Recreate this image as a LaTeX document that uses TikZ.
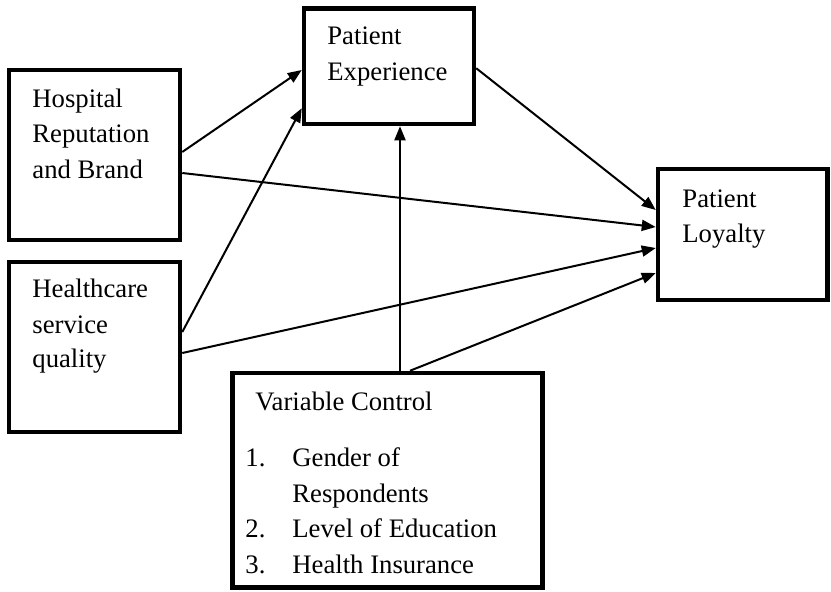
\documentclass[tikz,border=0pt]{standalone}
\usepackage{fontspec}
\setmainfont{Liberation Serif}
\usetikzlibrary{arrows.meta,calc}

\begin{document}
\begin{tikzpicture}[x=0.5pt,y=0.5pt,
  box/.style={draw,line width=2.25pt,inner sep=0pt},
  lbl/.style={anchor=base west,inner sep=0pt,font=\fontsize{13.35pt}{17.75pt}\selectfont},
  link/.style={line width=1pt,-{Triangle[length=7pt,width=5.5pt]}}]
\useasboundingbox (0,0) rectangle (831,591);
% boxes
\node[box,minimum width=85.5pt,minimum height=85pt] (hrb) at (94.5,436) {};
\node[box,minimum width=85.5pt,minimum height=85pt] (hsq) at (94.5,244) {};
\node[box,minimum width=85pt,minimum height=57.75pt] (pe) at (389,524.75) {};
\node[box,minimum width=84.75pt,minimum height=65.5pt] (pl) at (742.75,356.5) {};
\node[box,minimum width=155pt,minimum height=107.25pt] (vc) at (387.5,110.75) {};
% texts
\node[lbl] (hrb1) at (32,484) {Hospital};
\node[lbl] (hrb2) at (32,449) {Reputation};
\node[lbl] (hrb3) at (32,413) {and Brand};
\node[lbl] (hsq1) at (32,294) {Healthcare};
\node[lbl] (hsq2) at (32,258) {service};
\node[lbl] (hsq3) at (32,224) {quality};
\node[lbl] (pe1) at (327,546) {Patient};
\node[lbl] (pe2) at (327,511) {Experience};
\node[lbl] (pl1) at (682,384) {Patient};
\node[lbl] (pl2) at (682,349) {Loyalty};
\node[lbl] (vc0) at (255,181) {Variable Control};
\node[lbl] (vcn1) at (245,124.3) {1.};
\node[lbl] (vc1) at (292,124.3) {Gender of};
\node[lbl] (vc1b) at (292,89) {Respondents};
\node[lbl] (vcn2) at (245,54) {2.};
\node[lbl] (vc2) at (292,54) {Level of Education};
\node[lbl] (vcn3) at (245,18) {3.};
\node[lbl] (vc3) at (292,18) {Health Insurance};
% arrows
\draw[link] ($(hrb.east)+(0,3)$) -- ($(pe.west)+(0,-3.75)$);
\draw[link] ($(hsq.east)+(0,15)$) -- ($(pe.west)+(0,-42)$);
\draw[link] ($(hrb.east)+(0,-18)$) -- ($(pl.west)+(0,7.5)$);
\draw[link] ($(hsq.east)+(0,-6)$) -- ($(pl.west)+(0,-13.5)$);
\draw[link] ($(pe.east)+(0,-2)$) -- ($(pl.west)+(0,24.5)$);
\draw[link] ($(vc.north)+(12.5,0)$) -- ($(pe.south)+(11,0)$);
\draw[link] ($(vc.north)+(22.5,0)$) -- ($(pl.west)+(0,-38.5)$);
\end{tikzpicture}
\end{document}
